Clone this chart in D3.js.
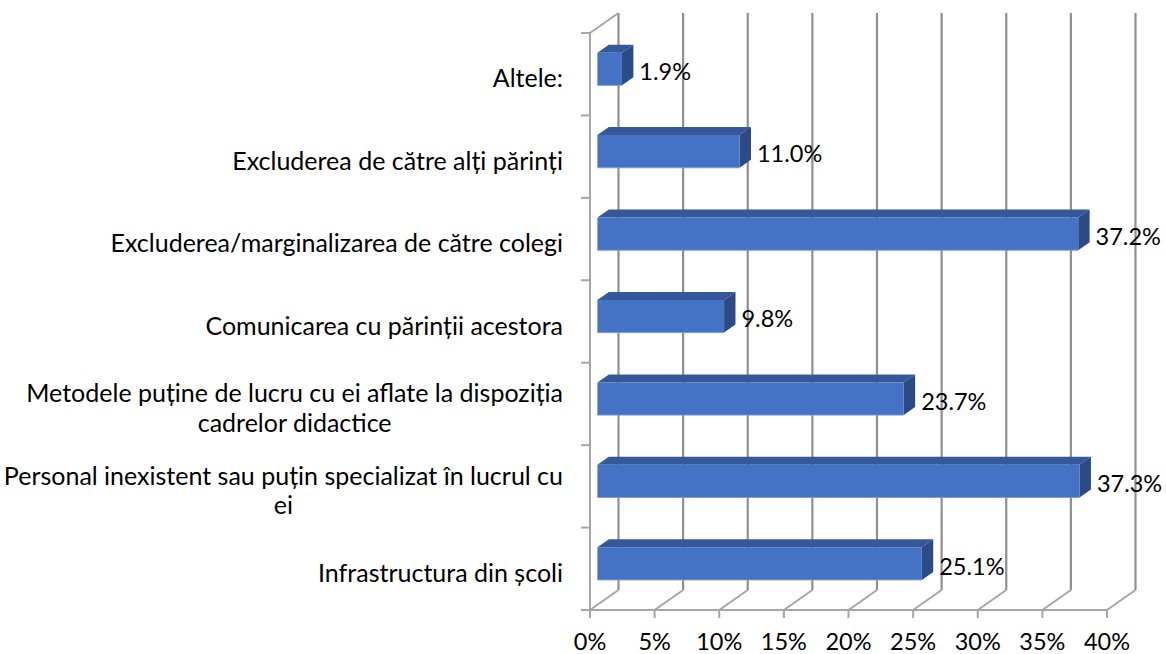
<!DOCTYPE html>
<html>
<head>
<meta charset="utf-8">
<script src="https://cdn.jsdelivr.net/npm/d3@7"></script>
<style>
  html, body { margin: 0; padding: 0; background: #ffffff; }
  svg { display: block; }
  text { font-family: Lato, "Open Sans", sans-serif; fill: #000; }
</style>
</head>
<body>
<svg id="chart" width="1166" height="654"></svg>
<script>
// Categories, top to bottom; each entry is the list of lines of its label
const categories = [
  "Altele:",
  "Excluderea de către alți părinți",
  "Excluderea/marginalizarea de către colegi",
  "Comunicarea cu părinții acestora",
  "Metodele puține de lucru cu ei aflate la dispoziția cadrelor didactice",
  "Personal inexistent sau puțin specializat în lucrul cu ei",
  "Infrastructura din școli"
];
const labelLines = [
  ["Altele:"],
  ["Excluderea de către alți părinți"],
  ["Excluderea/marginalizarea de către colegi"],
  ["Comunicarea cu părinții acestora"],
  ["Metodele puține de lucru cu ei aflate la dispoziția", "cadrelor didactice"],
  ["Personal inexistent sau puțin specializat în lucrul cu", "ei"],
  ["Infrastructura din școli"]
];
const values = [1.9, 11.0, 37.2, 9.8, 23.7, 37.3, 25.1];
const tickValues = [0, 5, 10, 15, 20, 25, 30, 35, 40];

const svg = d3.select("#chart");
const labelSize = 25;
const numberSize = 23.5;

// front plane of the plot
const x = d3.scaleLinear().domain([0, 40]).range([590, 1107]);
const y = d3.scaleBand().domain(categories).range([33, 610])
  .paddingInner(0.604).paddingOuter(0.302);
const step = y.step();

// oblique depth projection: depth 0 = front plane, 1 = back wall
const DX = 28.5, DY = -20;
const proj = (px, py, z) => [px + DX * z, py + DY * z];
const zFront = 0.26, zBack = 0.66;

const wallColor = "#a6a6a6";
const gridColor = "#8f8f8f";

// back-wall gridlines
const floorY = 610, topY = 33;
svg.append("g").selectAll("line").data(tickValues).join("line")
  .attr("x1", d => proj(x(d), floorY, 1)[0])
  .attr("x2", d => proj(x(d), topY, 1)[0])
  .attr("y1", proj(0, floorY, 1)[1])
  .attr("y2", proj(0, topY, 1)[1])
  .attr("stroke", gridColor).attr("stroke-width", 2.2);

// floor: front edge and depth edges
const floor = svg.append("g");
floor.append("line")
  .attr("x1", x(0)).attr("x2", x(40)).attr("y1", floorY).attr("y2", floorY)
  .attr("stroke", wallColor).attr("stroke-width", 2);
floor.selectAll("line.depth").data(tickValues).join("line").attr("class", "depth")
  .attr("x1", d => x(d)).attr("y1", floorY)
  .attr("x2", d => proj(x(d), floorY, 1)[0]).attr("y2", d => proj(x(d), floorY, 1)[1])
  .attr("stroke", wallColor).attr("stroke-width", 2);
floor.selectAll("line.tick").data(tickValues).join("line").attr("class", "tick")
  .attr("x1", d => x(d)).attr("x2", d => x(d))
  .attr("y1", floorY).attr("y2", floorY + 8)
  .attr("stroke", wallColor).attr("stroke-width", 2);

// left wall: front edge, top edge, category ticks
const wall = svg.append("g");
wall.append("line")
  .attr("x1", x(0)).attr("x2", x(0)).attr("y1", topY).attr("y2", floorY)
  .attr("stroke", wallColor).attr("stroke-width", 2);
wall.append("line")
  .attr("x1", x(0)).attr("y1", topY)
  .attr("x2", proj(x(0), topY, 1)[0]).attr("y2", proj(x(0), topY, 1)[1])
  .attr("stroke", wallColor).attr("stroke-width", 2);
const bounds = d3.range(categories.length + 1).map(i => topY + i * step);
wall.selectAll("line.tick").data(bounds).join("line").attr("class", "tick")
  .attr("x1", x(0) - 9).attr("x2", x(0))
  .attr("y1", d => d).attr("y2", d => d)
  .attr("stroke", wallColor).attr("stroke-width", 2);

// 3D bars
const bars = svg.append("g").selectAll("g").data(categories).join("g");
const barGeom = (c, i) => {
  const x0 = x(0), x1 = x(values[i]);
  const yt = y(c), yb = y(c) + y.bandwidth();
  return {
    front: [proj(x0, yt, zFront), proj(x1, yt, zFront), proj(x1, yb, zFront), proj(x0, yb, zFront)],
    top: [proj(x0, yt, zFront), proj(x1, yt, zFront), proj(x1, yt, zBack), proj(x0, yt, zBack)],
    side: [proj(x1, yt, zFront), proj(x1, yt, zBack), proj(x1, yb, zBack), proj(x1, yb, zFront)]
  };
};
const pts = p => p.map(q => q.join(",")).join(" ");
bars.append("polygon").attr("points", (c, i) => pts(barGeom(c, i).top)).attr("fill", "#34589a");
bars.append("polygon").attr("points", (c, i) => pts(barGeom(c, i).side)).attr("fill", "#2c4a84");
bars.append("polygon").attr("points", (c, i) => pts(barGeom(c, i).front)).attr("fill", "#4472c4");
bars.append("line")
  .attr("x1", (c, i) => barGeom(c, i).front[3][0]).attr("y1", (c, i) => barGeom(c, i).front[3][1])
  .attr("x2", (c, i) => barGeom(c, i).front[2][0]).attr("y2", (c, i) => barGeom(c, i).front[2][1])
  .attr("stroke", "#7d9ad6").attr("stroke-width", 1);

// value labels
svg.append("g").selectAll("text").data(categories).join("text")
  .attr("x", (c, i) => proj(x(values[i]), 0, zBack)[0] + 6)
  .attr("y", (c, i) => proj(0, y(c) + y.bandwidth() / 2, zFront)[1] + 2)
  .attr("dominant-baseline", "central")
  .attr("font-size", numberSize)
  .text((c, i) => values[i].toFixed(1) + "%");

// x tick labels
svg.append("g").selectAll("text").data(tickValues).join("text")
  .attr("x", d => x(d)).attr("y", 641)
  .attr("text-anchor", "middle").attr("dominant-baseline", "central")
  .attr("font-size", numberSize)
  .text(d => d + "%");

// category labels: block right-aligned next to the axis, lines centred within it
const lineH = 29.5;
const catG = svg.append("g");
categories.forEach((c, i) => {
  const lines = labelLines[i];
  const g = catG.append("g");
  const texts = lines.map(l => g.append("text")
    .attr("font-size", labelSize).attr("text-anchor", "middle")
    .attr("dominant-baseline", "central").text(l));
  const w = d3.max(texts, t => t.node().getComputedTextLength());
  const cx = 563 - w / 2;
  const cy = y(c) + y.bandwidth() / 2 + 3;
  texts.forEach((t, k) => {
    t.attr("x", cx).attr("y", cy + (k - (lines.length - 1) / 2) * lineH);
  });
});
</script>
</body>
</html>
